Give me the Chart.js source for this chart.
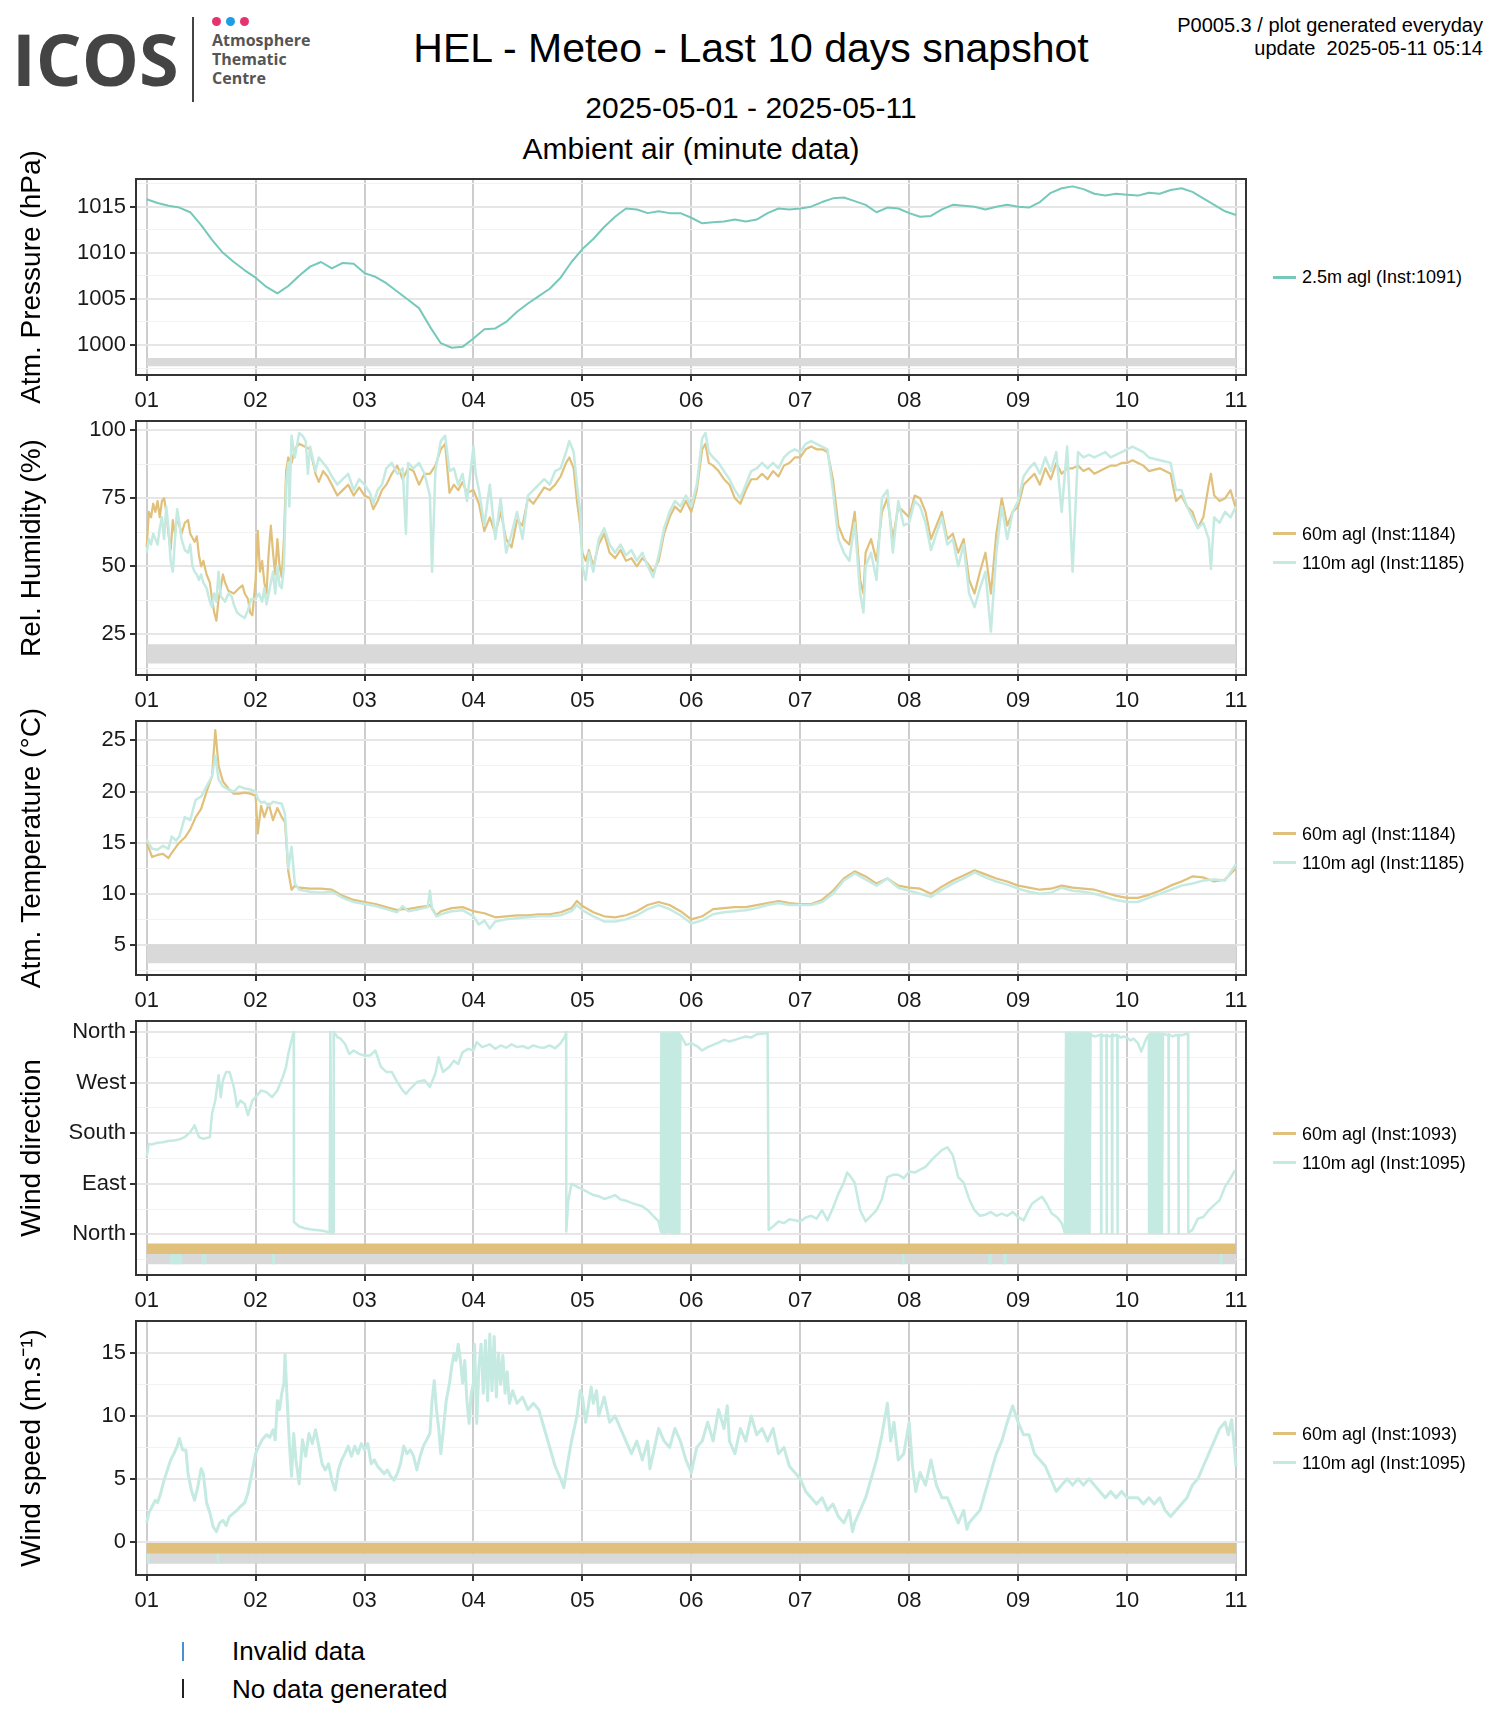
<!DOCTYPE html>
<html>
<head>
<meta charset="utf-8">
<title>HEL - Meteo - Last 10 days snapshot</title>
<script src="https://cdn.jsdelivr.net/npm/chart.js@4.4.1/dist/chart.umd.min.js"></script>
<style>
  body { margin: 0; background: #fff; }
  #page { position: relative; width: 1500px; height: 1725px; overflow: hidden; background: #fff;
          font-family: "Liberation Sans", Arial, sans-serif; color: #000; }
  #page canvas { position: absolute; left: 0; }
  .t { position: absolute; white-space: nowrap; line-height: 1; }
  .logo { font-family: "Open Sans", sans-serif; font-weight: 700; }
  .dot { position: absolute; width: 9px; height: 9px; border-radius: 50%; }
  .key { position: absolute; height: 3px; width: 23px; }
</style>
</head>
<body>
<div id="page">
  <!-- ICOS logo -->
  <div class="t logo" style="left:12px;top:22px;font-size:72px;color:#444;">ICOS</div>
  <div style="position:absolute;left:192px;top:17px;width:2px;height:85px;background:#444;"></div>
  <div class="dot" style="left:212px;top:17px;background:#e6336f;"></div>
  <div class="dot" style="left:226px;top:17px;background:#1d9de5;"></div>
  <div class="dot" style="left:240px;top:17px;background:#e6336f;"></div>
  <div class="t logo" style="left:212px;top:31px;font-size:16px;line-height:19px;color:#555;">Atmosphere<br>Thematic<br>Centre</div>

  <div class="t" style="left:0;width:1502px;text-align:center;top:28px;font-size:41px;">HEL - Meteo - Last 10 days snapshot</div>
  <div class="t" style="left:0;width:1502px;text-align:center;top:93px;font-size:30px;">2025-05-01 - 2025-05-11</div>
  <div class="t" style="left:0;width:1382px;text-align:center;top:134px;font-size:30px;">Ambient air (minute data)</div>
  <div class="t" style="right:17px;top:15px;font-size:20px;text-align:right;">P0005.3 / plot generated everyday</div>
  <div class="t" style="right:17px;top:38px;font-size:20px;text-align:right;">update&nbsp; 2025-05-11 05:14</div>

  <!-- bottom legend -->
  <div style="position:absolute;left:182px;top:1642px;width:2px;height:19px;background:#4a8fd0;"></div>
  <div class="t" style="left:232px;top:1638px;font-size:26px;">Invalid data</div>
  <div style="position:absolute;left:182px;top:1679px;width:2px;height:19px;background:#222;"></div>
  <div class="t" style="left:232px;top:1676px;font-size:26px;">No data generated</div>
</div>

<script>
// ---- axis ticks ----
const DAY_TICKS = [1, 2, 3, 4, 5, 6, 7, 8, 9, 10, 11];
const DAY_LABELS = ['01', '02', '03', '04', '05', '06', '07', '08', '09', '10', '11'];
const P_TICKS = [1000, 1005, 1010, 1015];
const P_MINOR = [997.5, 1002.5, 1007.5, 1012.5, 1017.5];
const RH_TICKS = [25, 50, 75, 100];
const RH_MINOR = [12.5, 37.5, 62.5, 87.5];
const T_TICKS = [5, 10, 15, 20, 25];
const T_MINOR = [2.5, 7.5, 12.5, 17.5, 22.5];
const WD_TICKS = [0, 90, 180, 270, 360];
const WD_MINOR = [-45, 45, 135, 225, 315];
const WD_TICK_LABELS = ['North', 'East', 'South', 'West', 'North'];
const WS_TICKS = [0, 5, 10, 15];
const WS_MINOR = [2.5, 7.5, 12.5];

// ---- series names ----
const PRESSURE_NAMES = ['2.5m agl (Inst:1091)'];
const RH_T_NAMES = ['60m agl (Inst:1184)', '110m agl (Inst:1185)'];
const WIND_NAMES = ['60m agl (Inst:1093)', '110m agl (Inst:1095)'];

// ---- atmospheric pressure, 2.5m, every 0.1 day from day 1 ----
const PRESSURE_HPA = [
  1015.8, 1015.4, 1015.1, 1014.9, 1014.4, 1013.0, 1011.4, 1010.0, 1009.0, 1008.1,
  1007.3, 1006.3, 1005.6, 1006.4, 1007.5, 1008.5, 1009.0, 1008.3, 1008.9, 1008.8,
  1007.8, 1007.4, 1006.7, 1005.8, 1004.9, 1004.0, 1002.0, 1000.2, 999.7, 999.8,
  1000.7, 1001.7, 1001.8, 1002.5, 1003.6, 1004.5, 1005.3, 1006.1, 1007.3, 1009.0,
  1010.4, 1011.5, 1012.8, 1013.9, 1014.8, 1014.7, 1014.3, 1014.5, 1014.3, 1014.3,
  1013.8, 1013.2, 1013.3, 1013.4, 1013.6, 1013.4, 1013.6, 1014.3, 1014.8, 1014.7,
  1014.8, 1015.0, 1015.5, 1015.9, 1016.0, 1015.6, 1015.2, 1014.4, 1014.9, 1014.8,
  1014.3, 1013.9, 1014.0, 1014.7, 1015.2, 1015.1, 1015.0, 1014.7, 1015.0, 1015.2,
  1015.0, 1014.9, 1015.5, 1016.5, 1017.0, 1017.2, 1016.9, 1016.4, 1016.2, 1016.4,
  1016.3, 1016.2, 1016.5, 1016.4, 1016.8, 1017.0, 1016.6, 1015.9, 1015.2, 1014.5,
  1014.1
];
const PRESSURE_DAYS = PRESSURE_HPA.map((_, i) => 1 + i / 10);

// ---- relative humidity [day, %] ----
const RH_60M = [
  [1.00,57],[1.02,70],[1.04,68],[1.06,73],[1.08,70],[1.10,74],[1.12,68],[1.14,74],[1.16,75],[1.18,70],
  [1.20,62],[1.22,56],[1.24,67],[1.26,62],[1.28,68],[1.30,65],[1.32,62],[1.35,66],[1.38,67],[1.40,62],
  [1.44,59],[1.46,61],[1.48,54],[1.50,50],[1.52,52],[1.55,47],[1.58,44],[1.60,38],[1.62,33],[1.64,30],
  [1.66,38],[1.68,42],[1.70,47],[1.72,44],[1.75,41],[1.80,40],[1.85,42],[1.88,43],[1.90,40],[1.93,38],
  [1.95,33],[1.97,32],[2.00,45],[2.02,63],[2.04,48],[2.06,52],[2.08,44],[2.10,40],[2.12,55],[2.14,65],
  [2.16,55],[2.18,47],[2.20,60],[2.22,50],[2.24,46],[2.26,60],[2.28,85],[2.30,90],[2.33,88],[2.36,93],
  [2.40,95],[2.45,94],[2.50,93],[2.55,84],[2.58,81],[2.62,85],[2.66,83],[2.70,80],[2.75,76],[2.80,78],
  [2.85,80],[2.90,76],[2.95,79],[3.00,76],[3.05,75],[3.08,71],[3.12,74],[3.16,78],[3.20,80],[3.25,84],
  [3.30,87],[3.35,82],[3.40,86],[3.45,85],[3.50,80],[3.55,84],[3.60,84],[3.65,87],[3.70,93],[3.74,95],
  [3.78,77],[3.82,80],[3.86,78],[3.90,81],[3.94,77],[4.00,78],[4.05,73],[4.10,63],[4.15,68],[4.20,62],
  [4.25,70],[4.30,60],[4.35,57],[4.40,67],[4.45,65],[4.50,75],[4.55,73],[4.60,76],[4.65,79],[4.70,78],
  [4.75,80],[4.80,83],[4.85,88],[4.88,90],[4.92,86],[4.95,74],[4.98,65],[5.00,55],[5.03,52],[5.06,56],
  [5.10,50],[5.15,58],[5.20,62],[5.25,55],[5.30,53],[5.35,56],[5.40,52],[5.45,53],[5.50,50],[5.55,53],
  [5.60,51],[5.65,48],[5.70,52],[5.75,62],[5.80,68],[5.85,72],[5.90,70],[5.95,74],[6.00,70],[6.05,78],
  [6.10,93],[6.13,95],[6.16,88],[6.20,87],[6.25,85],[6.30,82],[6.35,80],[6.40,75],[6.45,73],[6.50,78],
  [6.55,82],[6.60,82],[6.65,84],[6.70,82],[6.75,85],[6.80,83],[6.85,87],[6.90,88],[6.95,90],[7.00,90],
  [7.05,93],[7.10,94],[7.15,93],[7.20,93],[7.25,92],[7.30,82],[7.35,65],[7.40,60],[7.45,58],[7.50,70],
  [7.55,45],[7.58,40],[7.60,55],[7.65,60],[7.70,52],[7.75,70],[7.80,75],[7.85,60],[7.90,72],[7.95,70],
  [8.00,68],[8.05,76],[8.10,75],[8.15,70],[8.20,60],[8.25,65],[8.30,70],[8.35,60],[8.40,62],[8.45,55],
  [8.50,60],[8.55,45],[8.60,40],[8.65,48],[8.70,55],[8.75,40],[8.80,62],[8.85,75],[8.90,65],[8.95,70],
  [9.00,72],[9.05,80],[9.10,82],[9.15,84],[9.20,80],[9.25,86],[9.30,82],[9.35,88],[9.40,84],[9.45,86],
  [9.50,86],[9.55,87],[9.60,85],[9.65,86],[9.70,84],[9.75,85],[9.80,86],[9.85,87],[9.90,87],[9.95,88],
  [10.00,88],[10.05,89],[10.10,88],[10.15,87],[10.20,85],[10.30,86],[10.40,84],[10.45,74],[10.50,76],[10.55,72],
  [10.60,70],[10.65,64],[10.70,68],[10.75,80],[10.77,84],[10.80,76],[10.85,74],[10.90,75],[10.95,78],[11.00,71]
];
const RH_110M = [
  [1.00,55],[1.02,60],[1.04,58],[1.06,62],[1.08,60],[1.10,58],[1.12,64],[1.14,68],[1.16,60],[1.18,72],
  [1.20,64],[1.22,52],[1.24,48],[1.26,60],[1.28,71],[1.30,66],[1.32,60],[1.35,56],[1.38,55],[1.40,58],
  [1.42,50],[1.44,48],[1.46,47],[1.48,45],[1.50,47],[1.52,44],[1.55,42],[1.58,37],[1.60,35],[1.62,40],
  [1.64,37],[1.66,48],[1.68,39],[1.70,38],[1.72,37],[1.75,40],[1.78,39],[1.80,36],[1.83,33],[1.86,32],
  [1.90,31],[1.93,34],[1.96,38],[2.00,38],[2.03,40],[2.06,37],[2.08,42],[2.10,36],[2.13,42],[2.16,48],
  [2.18,40],[2.20,50],[2.22,43],[2.24,42],[2.26,50],[2.28,80],[2.30,88],[2.31,72],[2.33,98],[2.36,90],
  [2.40,99],[2.43,98],[2.46,96],[2.48,84],[2.50,94],[2.55,85],[2.58,90],[2.62,88],[2.66,86],[2.70,83],
  [2.75,80],[2.80,82],[2.85,84],[2.90,78],[2.95,82],[3.00,80],[3.05,77],[3.08,73],[3.12,78],[3.16,80],
  [3.20,86],[3.25,88],[3.30,84],[3.35,86],[3.38,62],[3.40,88],[3.45,86],[3.50,88],[3.55,84],[3.60,76],
  [3.62,48],[3.65,85],[3.70,96],[3.74,98],[3.78,85],[3.82,86],[3.86,80],[3.90,84],[3.94,74],[4.00,94],
  [4.02,84],[4.05,78],[4.10,65],[4.15,80],[4.20,60],[4.25,75],[4.30,55],[4.35,62],[4.40,70],[4.45,60],
  [4.50,76],[4.55,78],[4.60,80],[4.65,82],[4.70,80],[4.75,85],[4.80,86],[4.85,92],[4.88,96],[4.92,92],
  [4.95,80],[4.98,70],[5.00,50],[5.03,45],[5.06,55],[5.10,48],[5.15,60],[5.20,64],[5.25,58],[5.30,55],
  [5.35,58],[5.40,54],[5.45,56],[5.50,52],[5.55,55],[5.60,50],[5.65,46],[5.70,54],[5.75,64],[5.80,70],
  [5.85,74],[5.90,72],[5.95,76],[6.00,72],[6.05,80],[6.10,97],[6.13,99],[6.16,92],[6.20,90],[6.25,88],
  [6.30,85],[6.35,82],[6.40,78],[6.45,75],[6.50,80],[6.55,85],[6.60,86],[6.65,88],[6.70,86],[6.75,88],
  [6.80,86],[6.85,90],[6.90,92],[6.95,93],[7.00,92],[7.05,95],[7.10,96],[7.15,95],[7.20,94],[7.25,93],
  [7.30,78],[7.35,60],[7.40,55],[7.45,52],[7.50,66],[7.55,40],[7.58,33],[7.60,50],[7.65,55],[7.70,45],
  [7.75,75],[7.80,78],[7.85,55],[7.90,74],[7.95,65],[8.00,66],[8.05,74],[8.10,72],[8.15,66],[8.20,56],
  [8.25,62],[8.30,68],[8.35,58],[8.40,60],[8.45,50],[8.50,58],[8.55,40],[8.60,35],[8.65,42],[8.70,48],
  [8.75,26],[8.80,55],[8.85,72],[8.90,60],[8.95,70],[9.00,74],[9.05,83],[9.10,86],[9.15,88],[9.20,84],
  [9.25,90],[9.30,85],[9.35,92],[9.40,70],[9.45,94],[9.50,48],[9.55,92],[9.60,90],[9.65,91],[9.70,90],
  [9.75,91],[9.80,92],[9.85,90],[9.90,91],[9.95,92],[10.00,93],[10.05,94],[10.10,93],[10.15,92],[10.20,90],
  [10.30,89],[10.40,88],[10.45,78],[10.50,78],[10.55,72],[10.60,68],[10.65,64],[10.70,66],[10.75,60],[10.77,49],
  [10.80,68],[10.85,66],[10.90,70],[10.95,68],[11.00,72]
];

// ---- air temperature (degC) ----
const TEMP_DAYS = [
  1.00, 1.05, 1.10, 1.15, 1.20, 1.23, 1.27, 1.30, 1.35, 1.40,
  1.45, 1.50, 1.55, 1.60, 1.63, 1.66, 1.70, 1.75, 1.80, 1.85,
  1.90, 1.95, 2.00, 2.02, 2.05, 2.08, 2.12, 2.16, 2.20, 2.24,
  2.27, 2.30, 2.33, 2.36, 2.40, 2.50, 2.60, 2.70, 2.80, 2.90,
  3.00, 3.10, 3.20, 3.30, 3.35, 3.40, 3.50, 3.58, 3.60, 3.62,
  3.66, 3.70, 3.80, 3.90, 4.00, 4.05, 4.10, 4.15, 4.20, 4.30,
  4.40, 4.50, 4.60, 4.70, 4.80, 4.90, 4.95, 5.00, 5.10, 5.20,
  5.30, 5.40, 5.50, 5.60, 5.70, 5.80, 5.90, 6.00, 6.10, 6.20,
  6.30, 6.40, 6.50, 6.60, 6.70, 6.80, 6.90, 7.00, 7.10, 7.20,
  7.30, 7.40, 7.50, 7.60, 7.70, 7.80, 7.90, 8.00, 8.10, 8.20,
  8.30, 8.40, 8.50, 8.60, 8.70, 8.80, 8.90, 9.00, 9.10, 9.20,
  9.30, 9.40, 9.50, 9.60, 9.70, 9.80, 9.90, 10.00, 10.10, 10.20,
  10.30, 10.40, 10.50, 10.60, 10.70, 10.80, 10.90, 11.00
];
const TEMP_60M = [
  15.0, 13.6, 13.8, 13.9, 13.5, 14.0, 14.6, 15.0, 15.5, 16.3,
  17.5, 18.3, 20.0, 21.5, 26.0, 22.5, 21.0, 20.3, 19.8, 19.8,
  19.9, 19.8, 19.6, 15.9, 18.6, 17.5, 18.8, 17.2, 18.4, 17.5,
  17.0, 12.2, 10.4, 10.8, 10.6, 10.5, 10.5, 10.4, 9.8, 9.4,
  9.2, 9.0, 8.7, 8.4, 8.5, 8.5, 8.7, 8.8, 8.9, 8.6,
  7.9, 8.3, 8.6, 8.7, 8.3, 8.2, 8.1, 7.9, 7.7, 7.8,
  7.9, 7.9, 8.0, 8.0, 8.2, 8.6, 9.3, 8.8, 8.2, 7.8,
  7.7, 7.9, 8.3, 8.9, 9.2, 8.9, 8.3, 7.5, 7.8, 8.5,
  8.6, 8.7, 8.7, 8.9, 9.1, 9.3, 9.1, 9.0, 9.0, 9.4,
  10.3, 11.5, 12.2, 11.7, 11.0, 11.5, 10.8, 10.6, 10.5, 10.0,
  10.7, 11.3, 11.8, 12.3, 11.9, 11.5, 11.2, 10.8, 10.6, 10.4,
  10.5, 10.8, 10.6, 10.5, 10.4, 10.1, 9.8, 9.6, 9.6, 9.9,
  10.3, 10.8, 11.2, 11.7, 11.6, 11.2, 11.4, 12.5
];
const TEMP_110M = [
  15.3, 14.4, 14.3, 14.7, 14.4, 15.6, 15.2, 15.6, 17.5, 17.2,
  19.2, 19.5, 20.5, 21.5, 23.5, 21.2, 20.5, 20.2, 20.0, 20.5,
  20.3, 20.2, 20.0, 19.3, 18.9, 19.0, 18.6, 19.0, 18.9, 18.8,
  17.8, 12.5, 14.6, 11.0, 10.4, 10.2, 10.1, 10.2, 9.6, 9.2,
  9.0, 8.8, 8.5, 8.2, 8.8, 8.3, 8.5, 8.7, 10.3, 8.5,
  7.8, 8.0, 8.3, 8.4, 7.8, 7.0, 7.4, 6.6, 7.3, 7.5,
  7.6, 7.7, 7.8, 7.8, 7.9, 8.3, 8.9, 8.4, 7.8, 7.3,
  7.3, 7.5, 7.9, 8.5, 8.9, 8.5, 7.9, 7.1, 7.4, 8.0,
  8.2, 8.3, 8.4, 8.6, 8.9, 9.1, 8.9, 8.9, 8.9, 9.2,
  10.0, 11.3, 12.0, 11.4, 10.8, 11.5, 10.6, 10.3, 10.0, 9.7,
  10.4, 11.0, 11.5, 12.1, 11.6, 11.2, 10.9, 10.5, 10.2, 10.0,
  10.1, 10.6, 10.3, 10.2, 10.0, 9.7, 9.4, 9.2, 9.2, 9.6,
  10.0, 10.4, 10.8, 11.0, 11.3, 11.4, 11.3, 12.9
];

// ---- wind direction, 110m [day, degrees] ----
const WD_110M = [
  [1.00,138],[1.02,161],[1.05,160],[1.10,163],[1.15,164],[1.20,166],[1.25,167],[1.30,169],[1.35,173],[1.40,182],
  [1.44,194],[1.48,173],[1.52,170],[1.58,173],[1.60,215],[1.63,238],[1.66,283],[1.68,244],[1.70,274],[1.73,289],
  [1.76,289],[1.80,262],[1.83,227],[1.86,238],[1.90,232],[1.93,212],[1.97,238],[2.00,244],[2.05,256],[2.10,253],
  [2.15,244],[2.20,256],[2.25,280],[2.28,298],[2.30,321],[2.33,345],[2.35,360],[2.352,22],[2.40,14],[2.45,11],
  [2.50,9],[2.55,8],[2.60,7],[2.65,5],[2.68,3],[2.686,360],[2.70,2],[2.715,3],[2.717,360],[2.73,357],
  [2.75,351],[2.78,348],[2.82,339],[2.86,321],[2.90,327],[2.95,321],[3.00,318],[3.05,318],[3.10,327],[3.15,298],
  [3.20,289],[3.25,289],[3.30,271],[3.35,256],[3.38,250],[3.42,259],[3.48,271],[3.55,274],[3.60,262],[3.65,286],
  [3.68,315],[3.72,289],[3.78,298],[3.82,309],[3.86,303],[3.90,324],[3.95,330],[4.00,327],[4.03,342],[4.08,333],
  [4.15,338],[4.20,330],[4.25,336],[4.30,332],[4.35,338],[4.40,333],[4.45,335],[4.50,331],[4.55,336],[4.60,333],
  [4.65,332],[4.70,336],[4.75,331],[4.80,340],[4.84,352],[4.85,360],[4.852,5],[4.87,60],[4.90,90],[4.95,85],
  [5.00,80],[5.05,75],[5.10,70],[5.15,68],[5.20,63],[5.25,66],[5.30,70],[5.35,62],[5.40,60],[5.45,56],
  [5.50,53],[5.55,50],[5.60,43],[5.65,33],[5.70,23],[5.72,5],[5.725,358],[5.73,3],[5.735,358],[5.74,2],
  [5.745,357],[5.75,4],[5.755,358],[5.76,2],[5.765,356],[5.77,3],[5.78,358],[5.79,4],[5.80,357],[5.81,3],
  [5.82,358],[5.83,2],[5.835,357],[5.84,3],[5.845,358],[5.85,2],[5.855,357],[5.86,3],[5.865,358],[5.87,2],
  [5.875,357],[5.88,3],[5.885,358],[5.89,2],[5.90,355],[5.95,337],[6.00,340],[6.05,335],[6.10,327],[6.15,333],
  [6.20,337],[6.25,341],[6.30,346],[6.35,343],[6.40,346],[6.45,349],[6.50,352],[6.55,350],[6.60,356],[6.65,357],
  [6.70,358],[6.71,8],[6.75,14],[6.80,23],[6.85,20],[6.90,27],[6.95,25],[7.00,23],[7.05,30],[7.10,33],
  [7.15,28],[7.20,43],[7.25,25],[7.30,47],[7.35,72],[7.40,92],[7.43,110],[7.45,106],[7.50,92],[7.55,43],
  [7.60,23],[7.65,33],[7.70,43],[7.75,63],[7.80,102],[7.85,106],[7.90,106],[7.95,100],[8.00,112],[8.05,110],
  [8.10,115],[8.15,120],[8.20,131],[8.25,141],[8.30,150],[8.35,155],[8.40,141],[8.45,102],[8.50,92],[8.55,63],
  [8.60,43],[8.65,33],[8.70,35],[8.75,40],[8.80,33],[8.85,37],[8.90,33],[8.95,40],[9.00,31],[9.05,25],
  [9.10,45],[9.13,55],[9.18,62],[9.22,67],[9.26,55],[9.31,37],[9.36,30],[9.40,20],[9.43,2],[9.44,358],
  [9.445,3],[9.455,357],[9.46,2],[9.47,358],[9.475,4],[9.485,356],[9.49,3],[9.50,358],[9.505,2],[9.515,357],
  [9.52,3],[9.53,358],[9.535,2],[9.545,356],[9.55,4],[9.56,358],[9.565,2],[9.575,357],[9.58,3],[9.59,358],
  [9.595,2],[9.605,357],[9.61,3],[9.62,358],[9.625,2],[9.635,357],[9.64,3],[9.65,358],[9.655,2],[9.665,357],
  [9.67,355],[9.70,352],[9.74,354],[9.76,355],[9.762,3],[9.765,356],[9.78,353],[9.81,354],[9.812,2],[9.815,355],
  [9.84,352],[9.86,354],[9.862,3],[9.865,356],[9.88,353],[9.90,355],[9.91,352],[9.912,2],[9.915,354],[9.94,350],
  [9.97,352],[10.00,350],[10.03,345],[10.06,348],[10.10,340],[10.13,325],[10.15,335],[10.18,350],[10.20,355],[10.202,2],
  [10.21,357],[10.215,3],[10.225,358],[10.23,2],[10.24,357],[10.245,3],[10.255,358],[10.26,2],[10.27,356],[10.275,3],
  [10.285,357],[10.29,2],[10.30,358],[10.305,3],[10.315,356],[10.32,2],[10.33,357],[10.36,355],[10.38,354],[10.382,3],
  [10.385,356],[10.42,352],[10.45,355],[10.47,353],[10.472,2],[10.475,355],[10.50,354],[10.53,356],[10.56,357],[10.562,3],
  [10.60,8],[10.65,28],[10.70,31],[10.75,43],[10.80,52],[10.85,61],[10.90,85],[10.95,100],[10.99,114]
];

// ---- wind speed, 110m [day, m/s] ----
const WS_110M = [
  [1.00,1.5],[1.02,2.3],[1.05,2.8],[1.08,3.3],[1.10,3.1],[1.13,3.9],[1.16,4.9],[1.19,5.7],[1.22,6.5],[1.25,7.0],
  [1.28,7.6],[1.30,8.2],[1.33,7.3],[1.36,7.3],[1.38,5.4],[1.41,4.1],[1.44,3.3],[1.47,4.4],[1.50,5.8],[1.52,5.4],
  [1.55,3.1],[1.58,2.3],[1.61,1.2],[1.64,0.8],[1.67,1.5],[1.70,1.7],[1.73,1.3],[1.76,2.0],[1.80,2.3],[1.83,2.5],
  [1.86,2.8],[1.90,3.1],[1.93,3.9],[1.96,5.2],[2.00,7.0],[2.03,7.6],[2.06,8.1],[2.10,8.5],[2.13,8.3],[2.16,8.9],
  [2.18,8.1],[2.20,11.2],[2.22,10.5],[2.24,11.8],[2.26,12.6],[2.27,14.9],[2.29,11.2],[2.31,7.8],[2.33,5.2],[2.35,8.6],
  [2.37,6.5],[2.40,4.6],[2.43,8.1],[2.46,6.8],[2.49,8.6],[2.52,7.8],[2.55,8.9],[2.58,7.6],[2.61,6.2],[2.64,5.7],
  [2.67,6.2],[2.70,4.9],[2.73,4.1],[2.76,5.7],[2.79,6.5],[2.82,7.0],[2.85,7.6],[2.88,6.8],[2.91,7.6],[2.94,7.0],
  [2.97,7.8],[3.00,7.3],[3.03,7.8],[3.06,6.2],[3.09,6.5],[3.12,6.0],[3.15,5.7],[3.18,5.4],[3.21,5.7],[3.24,5.2],
  [3.27,4.9],[3.30,5.4],[3.33,6.2],[3.36,7.6],[3.39,7.0],[3.42,7.3],[3.45,6.8],[3.48,5.7],[3.51,6.8],[3.54,7.6],
  [3.57,8.1],[3.60,8.6],[3.62,11.2],[3.64,12.8],[3.66,10.5],[3.68,9.1],[3.70,7.0],[3.72,8.6],[3.75,11.2],[3.78,12.6],
  [3.80,13.9],[3.82,14.9],[3.84,14.4],[3.86,15.7],[3.88,14.4],[3.90,12.6],[3.92,14.4],[3.94,11.2],[3.96,9.4],[3.98,11.8],
  [4.00,12.6],[4.01,15.7],[4.03,9.4],[4.05,13.9],[4.07,15.7],[4.09,11.8],[4.11,16.0],[4.13,11.2],[4.15,16.5],[4.17,12.0],
  [4.19,16.3],[4.21,11.5],[4.23,15.0],[4.25,12.5],[4.27,14.8],[4.29,11.8],[4.31,13.5],[4.33,11.0],[4.36,12.0],[4.40,11.0],
  [4.45,11.5],[4.50,10.5],[4.55,11.0],[4.60,10.5],[4.65,9.0],[4.70,7.5],[4.75,6.0],[4.80,5.0],[4.83,4.3],[4.86,6.0],
  [4.90,8.0],[4.95,10.0],[4.98,12.0],[5.00,11.5],[5.03,9.5],[5.05,10.5],[5.08,12.3],[5.10,11.0],[5.13,12.0],[5.15,10.0],
  [5.20,11.5],[5.25,9.5],[5.30,10.0],[5.35,9.0],[5.40,8.0],[5.45,7.0],[5.50,8.0],[5.55,6.5],[5.60,8.0],[5.62,5.8],
  [5.65,7.0],[5.70,9.0],[5.75,8.0],[5.80,7.5],[5.85,9.0],[5.90,8.0],[5.95,6.5],[6.00,5.5],[6.05,7.5],[6.10,8.0],
  [6.15,9.5],[6.20,8.0],[6.25,10.5],[6.30,9.0],[6.33,10.8],[6.35,8.0],[6.40,7.0],[6.45,9.0],[6.50,8.0],[6.55,10.0],
  [6.60,8.5],[6.65,9.0],[6.70,8.0],[6.75,9.0],[6.80,7.0],[6.85,7.5],[6.90,6.0],[6.95,5.5],[7.00,5.0],[7.05,4.0],
  [7.10,3.5],[7.15,3.0],[7.20,3.5],[7.25,2.5],[7.30,3.0],[7.35,2.0],[7.40,1.5],[7.45,2.5],[7.48,0.8],[7.50,1.5],
  [7.55,2.5],[7.60,3.5],[7.65,5.0],[7.70,6.5],[7.75,8.5],[7.80,11.0],[7.83,8.0],[7.86,9.5],[7.90,6.5],[7.95,7.0],
  [8.00,9.5],[8.03,6.0],[8.06,4.0],[8.10,5.5],[8.15,4.5],[8.20,6.5],[8.25,4.5],[8.30,3.5],[8.35,3.5],[8.40,2.5],
  [8.45,1.5],[8.50,2.5],[8.53,1.0],[8.55,1.5],[8.60,2.0],[8.65,2.5],[8.70,4.0],[8.75,5.5],[8.80,7.0],[8.85,8.0],
  [8.90,9.5],[8.95,10.8],[9.00,9.5],[9.05,8.5],[9.10,8.5],[9.15,7.0],[9.20,6.5],[9.25,6.0],[9.30,5.0],[9.35,4.0],
  [9.40,4.5],[9.45,5.0],[9.50,4.5],[9.55,5.0],[9.60,4.5],[9.65,5.0],[9.70,4.5],[9.75,4.0],[9.80,3.5],[9.85,4.0],
  [9.90,3.5],[9.95,4.0],[10.00,3.5],[10.05,3.5],[10.10,3.5],[10.15,3.0],[10.20,3.5],[10.25,3.0],[10.30,3.5],[10.35,2.5],
  [10.40,2.0],[10.45,2.5],[10.50,3.0],[10.55,3.5],[10.60,4.5],[10.65,5.0],[10.70,6.0],[10.75,7.0],[10.80,8.0],[10.85,9.0],
  [10.90,9.5],[10.93,8.5],[10.96,9.7],[10.98,8.0],[11.00,6.0]
];

// ---- status strips under the curves ----
const STRIP_DAYS = [1, 11];
const WD_FLAGS_110M = [[1.21, 1.33], [1.50, 1.55], [2.15, 2.18], [7.93, 7.96], [8.72, 8.76], [8.86, 8.90], [10.85, 10.88]];
const WS_FLAGS_110M = [[1.00, 1.03], [1.64, 1.67]];

// ---- look ----
const C_PRESSURE = '#76c9ba';
const C_60M = '#e0c07a';
const C_110M = '#c4eae2';
const C_STRIP = '#d9d9d9';
const TICK_COLOR = '#1a1a1a';
Chart.defaults.font.family = '"Liberation Sans", Arial, sans-serif';

// room above each plot area so the rotated axis titles are not clipped
const CANVAS_W = 1270, PLOT_LEFT = 136, PLOT_RIGHT = 1246, PAD_TOP = 45, X_AXIS_H = 50;
const X_MIN = 0.902, X_MAX = 11.092;
const page = document.getElementById('page');

const toPoints = pairs => pairs.map(p => ({x: p[0], y: p[1]}));
const zipPoints = (days, vals) => vals.map((v, i) => ({x: days[i], y: v}));

function line(points, color, order, width) {
  return {data: points, borderColor: color, borderWidth: width || 2, pointRadius: 0, tension: 0,
          borderJoinStyle: 'round', fill: false, order: order};
}
function strip(span, lo, hi, color, order) {
  return {data: [{x: span[0], y: hi}, {x: span[1], y: hi}], fill: {value: lo},
          backgroundColor: color, borderColor: 'rgba(0,0,0,0)', borderWidth: 0,
          pointRadius: 0, order: order};
}

const frame = {
  id: 'frame',
  afterDraw(chart) {
    const {ctx, chartArea: a} = chart;
    ctx.save();
    ctx.strokeStyle = '#333';
    ctx.lineWidth = 2;
    ctx.strokeRect(a.left, a.top, a.right - a.left, a.bottom - a.top);
    ctx.restore();
  }
};

function addLegend(p) {
  const mid = (p.top + p.bottom) / 2;
  p.names.forEach((name, i) => {
    const y = mid + (i - (p.names.length - 1) / 2) * 29;
    const key = document.createElement('div');
    key.className = 'key';
    key.style.left = '1273px';
    key.style.top = (y - 1.5) + 'px';
    key.style.background = p.colors[i];
    page.appendChild(key);
    const txt = document.createElement('div');
    txt.className = 't';
    txt.style.left = '1302px';
    txt.style.top = (y - 9) + 'px';
    txt.style.fontSize = '18px';
    txt.textContent = name;
    page.appendChild(txt);
  });
}

function makePanel(p) {
  const canvas = document.createElement('canvas');
  canvas.width = CANVAS_W;
  canvas.height = PAD_TOP + (p.bottom - p.top) + X_AXIS_H;
  canvas.style.top = (p.top - PAD_TOP) + 'px';
  page.appendChild(canvas);
  const isMajor = v => p.major.includes(v);

  new Chart(canvas, {
    type: 'line',
    data: {datasets: p.datasets},
    plugins: [frame],
    options: {
      responsive: false,
      animation: false,
      devicePixelRatio: 1,
      layout: {padding: {top: PAD_TOP, right: CANVAS_W - PLOT_RIGHT, left: 0, bottom: 0}},
      plugins: {legend: {display: false}, tooltip: {enabled: false}},
      scales: {
        x: {
          type: 'linear', min: X_MIN, max: X_MAX,
          afterBuildTicks: s => { s.ticks = DAY_TICKS.map(v => ({value: v})); },
          afterFit: s => { s.height = X_AXIS_H; },
          ticks: {autoSkip: false, maxRotation: 0, padding: 7, color: TICK_COLOR, font: {size: 22},
                  callback: v => DAY_LABELS[DAY_TICKS.indexOf(v)]},
          grid: {color: '#cdcdcd', lineWidth: 2, tickColor: '#333', tickLength: 6, tickWidth: 2},
          border: {display: false}
        },
        y: {
          type: 'linear', min: p.yMin, max: p.yMax,
          afterBuildTicks: s => {
            s.ticks = p.major.concat(p.minor).sort((a, b) => a - b).map(v => ({value: v}));
          },
          afterFit: s => { s.width = PLOT_LEFT; },
          ticks: {autoSkip: false, padding: 4, color: TICK_COLOR, font: {size: 22},
                  callback: v => isMajor(v) ? p.label(v) : ''},
          grid: {
            color: c => isMajor(c.tick.value) ? '#e6e6e6' : '#f2f2f2',
            lineWidth: c => isMajor(c.tick.value) ? 2 : 1,
            tickColor: c => isMajor(c.tick.value) ? '#333' : 'rgba(0,0,0,0)',
            tickLength: 6, tickWidth: 2
          },
          border: {display: false},
          title: {display: true, text: p.title, color: '#000', font: {size: 28},
                  padding: {top: 15, bottom: 0}}
        }
      }
    }
  });
  addLegend(p);
}

const PANELS = [
  {
    top: 179, bottom: 375, yMin: 996.75, yMax: 1018.0,
    major: P_TICKS, minor: P_MINOR, label: v => String(v),
    title: 'Atm. Pressure (hPa)',
    names: PRESSURE_NAMES, colors: [C_PRESSURE],
    datasets: [
      line(zipPoints(PRESSURE_DAYS, PRESSURE_HPA), C_PRESSURE, 1),
      strip(STRIP_DAYS, 997.7, 998.6, C_STRIP, 20)
    ]
  },
  {
    top: 421, bottom: 675, yMin: 10.06, yMax: 103.4,
    major: RH_TICKS, minor: RH_MINOR, label: v => String(v),
    title: 'Rel. Humidity (%)',
    names: RH_T_NAMES, colors: [C_60M, C_110M],
    datasets: [
      line(toPoints(RH_110M), C_110M, 1, 2.5),
      line(toPoints(RH_60M), C_60M, 2, 2.2),
      strip(STRIP_DAYS, 14.3, 21.4, C_STRIP, 20)
    ]
  },
  {
    top: 721, bottom: 975, yMin: 2.06, yMax: 26.9,
    major: T_TICKS, minor: T_MINOR, label: v => String(v),
    title: 'Atm. Temperature (°C)',
    names: RH_T_NAMES, colors: [C_60M, C_110M],
    datasets: [
      line(zipPoints(TEMP_DAYS, TEMP_110M), C_110M, 1, 2.5),
      line(zipPoints(TEMP_DAYS, TEMP_60M), C_60M, 2, 2.2),
      strip(STRIP_DAYS, 3.2, 5.07, C_STRIP, 20)
    ]
  },
  {
    top: 1021, bottom: 1275, yMin: -72.2, yMax: 379.5,
    major: WD_TICKS, minor: WD_MINOR, label: v => WD_TICK_LABELS[WD_TICKS.indexOf(v)],
    title: 'Wind direction',
    names: WIND_NAMES, colors: [C_60M, C_110M],
    datasets: [
      line(toPoints(WD_110M), C_110M, 1, 2.5),
      strip(STRIP_DAYS, -35, -16, C_60M, 20),
      ...WD_FLAGS_110M.map(f => strip(f, -53, -35, C_110M, 15)),
      strip(STRIP_DAYS, -53, -35, C_STRIP, 20)
    ]
  },
  {
    top: 1321, bottom: 1575, yMin: -2.64, yMax: 17.54,
    major: WS_TICKS, minor: WS_MINOR, label: v => String(v),
    title: 'Wind speed (m.s\u207B\u00B9)',
    names: WIND_NAMES, colors: [C_60M, C_110M],
    datasets: [
      line(toPoints(WS_110M), C_110M, 1, 3),
      strip(STRIP_DAYS, -0.95, -0.1, C_60M, 20),
      ...WS_FLAGS_110M.map(f => strip(f, -1.74, -0.95, C_110M, 15)),
      strip(STRIP_DAYS, -1.74, -0.95, C_STRIP, 20)
    ]
  }
];

PANELS.forEach(makePanel);
</script>
</body>
</html>
